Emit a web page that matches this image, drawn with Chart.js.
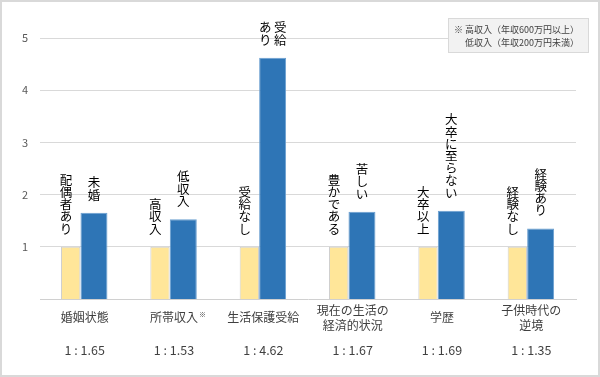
<!DOCTYPE html>
<html><head><meta charset="utf-8">
<script src="https://cdn.jsdelivr.net/npm/chart.js@4/dist/chart.umd.min.js"></script>
<style>
html,body{margin:0;padding:0;background:#fff;}
#wrap{width:600px;height:377px;box-sizing:border-box;border:2px solid #d9d9d9;background:#fff;}
canvas{display:block;}
</style></head><body>
<div id="wrap"><canvas id="c" width="596" height="373"></canvas></div>
<script>
// ---- data ----
const categories = [["婚姻状態"], ["所帯収入"], ["生活保護受給"], ["現在の生活の", "経済的状況"], ["学歴"], ["子供時代の", "逆境"]];
const ratioLabels = ["1 : 1.65", "1 : 1.53", "1 : 4.62", "1 : 1.67", "1 : 1.69", "1 : 1.35"];
const baseValues = [1, 1, 1, 1, 1, 1];
const compareValues = [1.65, 1.53, 4.62, 1.67, 1.69, 1.35];
const baseLabels = ["配偶者あり", "高収入", "受給なし", "豊かである", "大卒以上", "経験なし"];
const compareLabels = [["未婚"], ["低収入"], ["受給", "あり"], ["苦しい"], ["大卒に至らない"], ["経験あり"]];
const yTicks = [1, 2, 3, 4, 5];
const noteLines = ["※ 高収入（年収600万円以上）", "低収入（年収200万円未満）"];
const footnoteIndex = 1;
const footnoteMark = "※";

const FONT = "'Noto Sans CJK JP','Noto Sans',sans-serif";

const vlabelPlugin = {
  id: 'vlabels',
  afterDatasetsDraw(chart) {
    const ctx = chart.ctx;
    ctx.save();
    ctx.font = "12.5px " + FONT;
    ctx.fillStyle = '#000';
    ctx.textAlign = 'center';
    ctx.textBaseline = 'middle';
    chart.data.datasets.forEach((ds, di) => {
      const meta = chart.getDatasetMeta(di);
      meta.data.forEach((bar, i) => {
        const lab = ds.vlabels[i];
        const cols = Array.isArray(lab) ? lab : [lab];
        const p = bar.getProps(['x', 'y', 'width'], true);
        const cx = ds.labelAt === 'start' ? p.x - p.width / 2 + 5 : p.x;
        const colStep = 15;
        const bottom = p.y - 12;
        const maxLen = Math.max(...cols.map(c => Array.from(c).length));
        cols.forEach((col, ci) => {
          const colX = cx + (cols.length - 1) * colStep / 2 - ci * colStep;
          const chars = Array.from(col);
          chars.forEach((ch, k) => {
            const cy = bottom - 6 - (maxLen - 1 - k) * 12.2;
            ctx.fillText(ch, colX, cy);
          });
        });
      });
    });
    ctx.restore();
  },
  afterDraw(chart) {
    const ctx = chart.ctx;
    const ca = chart.chartArea;
    ctx.save();
    // note box
    const bx = ca.right - 128, by = ca.top - 20, bw = 141, bh = 35;
    ctx.fillStyle = '#f2f2f2';
    ctx.fillRect(bx, by, bw, bh);
    ctx.strokeStyle = '#d9d9d9';
    ctx.lineWidth = 1;
    ctx.strokeRect(bx + 0.5, by + 0.5, bw - 1, bh - 1);
    ctx.fillStyle = '#404040';
    ctx.font = "9px " + FONT;
    ctx.textAlign = 'right';
    ctx.textBaseline = 'middle';
    ctx.fillText(noteLines[0], ca.right + 3, ca.top - 8);
    ctx.fillText(noteLines[1], ca.right + 3, ca.top + 5);
    // footnote mark on category label
    const xs = chart.scales.x;
    const items = xs.getLabelItems();
    const it = items[footnoteIndex];
    if (it) {
      ctx.font = "12px " + FONT;
      const w = ctx.measureText(categories[footnoteIndex][0]).width;
      const tx = it.options.translation[0] + w / 2 + 1;
      const ty = it.options.translation[1] + it.textOffset;
      ctx.font = "7px " + FONT;
      ctx.textAlign = 'left';
      ctx.textBaseline = it.options.textBaseline || 'middle';
      ctx.fillText(footnoteMark, tx, ty - 3);
    }
    ctx.restore();
  }
};

new Chart(document.getElementById('c'), {
  type: 'bar',
  data: {
    labels: categories,
    datasets: [
      { label: '基準', data: baseValues, backgroundColor: '#FFE699', borderColor: '#CFCFCF', borderWidth: 1,
        categoryPercentage: 0.627, barPercentage: 0.69, vlabels: baseLabels, labelAt: 'start' },
      { label: '比較', data: compareValues, backgroundColor: '#2E75B6', borderColor: '#6A9FD0', borderWidth: 1,
        categoryPercentage: 0.4164, barPercentage: 1.45, vlabels: compareLabels, labelAt: 'center' }
    ]
  },
  options: {
    responsive: false,
    animation: false,
    layout: { padding: { left: 0, top: 36, right: 22, bottom: 16 } },
    plugins: { legend: { display: false }, tooltip: { enabled: false } },
    scales: {
      x: {
        position: 'bottom', offset: true,
        grid: { display: false },
        border: { color: '#d0d0d0', width: 1 },
        ticks: { color: '#404040', font: { family: FONT, size: 12, lineHeight: 1.25 }, padding: 3,
                 crossAlign: 'center', maxRotation: 0, autoSkip: false },
        afterFit(s) { s.height = 40; }
      },
      x2: {
        type: 'category', position: 'bottom', offset: true, labels: ratioLabels,
        grid: { display: false, drawTicks: false },
        border: { display: false },
        ticks: { color: '#404040', font: { family: FONT, size: 12.5, lineHeight: 1.25 }, padding: 3,
                 maxRotation: 0, autoSkip: false },
        afterFit(s) { s.height = 20; }
      },
      y: {
        min: 0, max: 5,
        afterBuildTicks(s) { s.ticks = yTicks.map(v => ({ value: v })); },
        ticks: { color: '#595959', font: { family: FONT, size: 11 }, padding: 12 },
        grid: { color: '#d9d9d9', drawTicks: false },
        border: { display: false },
        afterFit(s) { s.width = 38; }
      }
    }
  },
  plugins: [vlabelPlugin]
});
</script>
</body></html>
